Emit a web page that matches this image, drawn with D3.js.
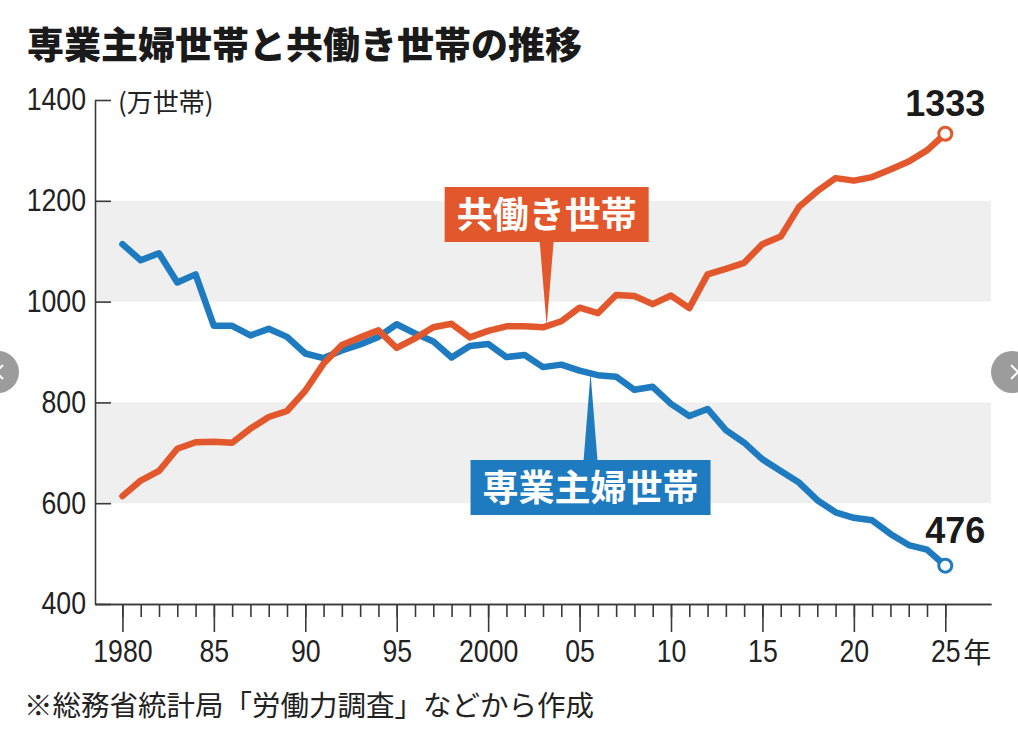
<!DOCTYPE html>
<html lang="ja">
<head>
<meta charset="utf-8">
<script src="https://cdn.jsdelivr.net/npm/d3@7"></script>
<style>
  body { margin: 0; background: #fff; }
  svg { display: block; }
</style>
</head>
<body>
<div id="chart"></div>
<script>
// data (万世帯)
const years = [1980, 1981, 1982, 1983, 1984, 1985, 1986, 1987, 1988, 1989,
  1990, 1991, 1992, 1993, 1994, 1995, 1996, 1997, 1998, 1999,
  2000, 2001, 2002, 2003, 2004, 2005, 2006, 2007, 2008, 2009,
  2010, 2011, 2012, 2013, 2014, 2015, 2016, 2017, 2018, 2019,
  2020, 2021, 2022, 2023, 2024, 2025];
const housewife = [1114, 1082, 1096, 1038, 1054, 952, 952, 933, 946, 930,
  897, 888, 903, 915, 930, 955, 937, 921, 889, 912,
  916, 890, 894, 870, 875, 863, 854, 851, 825, 831,
  797, 773, 787, 745, 720, 687, 664, 641, 606, 582,
  571, 566, 539, 517, 508, 476];
const dualIncome = [614, 645, 664, 708, 721, 722, 720, 748, 771, 783,
  823, 877, 914, 929, 943, 908, 927, 949, 956, 929,
  942, 951, 951, 949, 961, 988, 977, 1013, 1011, 995,
  1012, 987, 1054, 1065, 1077, 1114, 1129, 1188, 1219, 1245,
  1240, 1247, 1262, 1278, 1300, 1333];
const yTicks = [400, 600, 800, 1000, 1200, 1400];
const xMajor = [1980, 1985, 1990, 1995, 2000, 2005, 2010, 2015, 2020, 2025];
const xLabels = ["1980", "85", "90", "95", "2000", "05", "10", "15", "20", "25"];
const bands = [[600, 800], [1000, 1200]];

const width = 1018;
const height = 748;
const orange = "#e2582c";
const blue = "#1f7bc0";
const numFont = '"Liberation Sans Narrow", "Liberation Sans", Arial, sans-serif';
const jpFont = '"Noto Sans CJK JP", "Noto Sans", sans-serif';

const svg = d3.select("#chart")
  .append("svg")
  .attr("width", width)
  .attr("height", height)

// plot frame spans a year and a half past the data on each side
const x = d3.scaleLinear().domain([1978.5, 2027.5]).range([95, 991]);
const y = d3.scaleLinear().domain([400, 1400]).range([604, 100]);

// gray bands
svg.append("g")
  .selectAll("rect")
  .data(bands)
  .enter()
  .append("rect")
  .attr("x", x(1978.5))
  .attr("width", x(2027.5) - x(1978.5))
  .attr("y", function (d) { return y(d[1]); })
  .attr("height", function (d) { return y(d[0]) - y(d[1]); })
  .attr("fill", "#efefef");

// y axis (ticks point inward, labels outside)
svg.append("g")
  .attr("transform", "translate(" + x(1978.5) + ",0)")
  .call(d3.axisLeft(y).tickValues(yTicks).tickSize(-16).tickSizeOuter(0).tickPadding(9)
    .tickFormat(d3.format("d")));

// x axis: minor ticks every year, major every 5
svg.append("g")
  .attr("transform", "translate(0," + y(400) + ")")
  .call(d3.axisBottom(x).tickValues(years).tickSize(13).tickSizeOuter(0).tickFormat(""));

svg.append("g")
  .attr("transform", "translate(0," + y(400) + ")")
  .call(d3.axisBottom(x).tickValues(xMajor).tickSize(28).tickSizeOuter(0).tickPadding(8)
    .tickFormat(function (d, i) { return xLabels[i]; }));

svg.selectAll(".domain, .tick line")
  .attr("stroke", "#3a3a3a")
  .attr("stroke-width", 1.6);

// condensed-looking digits: squeeze the glyphs a little
svg.selectAll(".tick text")
  .attr("font-family", numFont)
  .attr("font-size", 31)
  .attr("fill", "#222")
  .each(function () {
    const len = this.getComputedTextLength();
    if (len > 0) {
      d3.select(this)
        .attr("textLength", len * 0.86)
        .attr("lengthAdjust", "spacingAndGlyphs");
    }
  });

// "年" after the last year label
svg.append("text")
  .attr("x", x(2025) + 18)
  .attr("y", 663)
  .attr("font-family", jpFont)
  .attr("font-size", 28)
  .attr("fill", "#222")
  .text("年");

// unit
svg.append("text")
  .attr("x", 118)
  .attr("y", 112)
  .attr("font-family", jpFont)
  .attr("font-size", 26)
  .attr("fill", "#222")
  .text("(万世帯)");

// lines
const line = d3.line()
  .x(function (d, i) { return x(years[i]); })
  .y(function (d) { return y(d); });

const series = [
  { key: "専業主婦世帯", values: housewife, color: blue },
  { key: "共働き世帯", values: dualIncome, color: orange }
];

svg.append("g")
  .selectAll("path")
  .data(series)
  .enter()
  .append("path")
  .attr("d", function (d) { return line(d.values); })
  .attr("fill", "none")
  .attr("stroke", function (d) { return d.color; })
  .attr("stroke-width", 6.5)
  .attr("stroke-linejoin", "round")
  .attr("stroke-linecap", "round");

// end markers + values
const last = years.length - 1;
svg.append("g")
  .selectAll("circle")
  .data(series)
  .enter()
  .append("circle")
  .attr("cx", x(years[last]))
  .attr("cy", function (d) { return y(d.values[last]); })
  .attr("r", 6.5)
  .attr("fill", "#fff")
  .attr("stroke", function (d) { return d.color; })
  .attr("stroke-width", 3);

svg.append("g")
  .selectAll("text")
  .data(series)
  .enter()
  .append("text")
  .attr("x", x(years[last]) + 40)
  .attr("y", function (d) {
    return d.values[last] > 1000 ? y(d.values[last]) - 18 : y(d.values[last]) - 23;
  })
  .attr("text-anchor", "end")
  .attr("font-family", '"Liberation Sans", Arial, sans-serif')
  .attr("font-weight", "bold")
  .attr("font-size", 36)
  .attr("fill", "#1a1a1a")
  .text(function (d) { return d.values[last]; });

// callout boxes with pointers
function valueAt(values, yr) {
  const i = Math.floor(yr) - years[0];
  const t = yr - Math.floor(yr);
  return values[i] * (1 - t) + values[i + 1] * t;
}

const callouts = [
  { text: "共働き世帯", values: dualIncome, color: orange, at: 2003.2, boxTop: 187, above: true },
  { text: "専業主婦世帯", values: housewife, color: blue, at: 2005.6, boxTop: 460, above: false }
];
const boxH = 55;

callouts.forEach(function (c) {
  const tx = x(c.at);
  const ty = y(valueAt(c.values, c.at));
  const g = svg.append("g");
  const edge = c.above ? c.boxTop + boxH - 1 : c.boxTop + 1;
  g.append("path")
    .attr("d", "M" + (tx - 7) + "," + edge + "L" + (tx + 7) + "," + edge + "L" + tx + "," + ty + "Z")
    .attr("fill", c.color);
  const rect = g.append("rect").attr("fill", c.color);
  const label = g.append("text")
    .attr("x", tx)
    .attr("y", c.boxTop + boxH / 2)
    .attr("dy", "0.38em")
    .attr("text-anchor", "middle")
    .attr("font-family", jpFont)
    .attr("font-weight", "bold")
    .attr("font-size", 36)
    .attr("fill", "#fff")
    .text(c.text);
  const w = label.node().getComputedTextLength() + 24;
  rect.attr("x", tx - w / 2)
    .attr("y", c.boxTop)
    .attr("width", w)
    .attr("height", boxH);
});

// title and source
svg.append("text")
  .attr("x", 27)
  .attr("y", 59)
  .attr("font-family", jpFont)
  .attr("font-weight", 900)
  .attr("font-size", 37)
  .attr("fill", "#1a1a1a")
  .text("専業主婦世帯と共働き世帯の推移");

svg.append("text")
  .attr("x", 24)
  .attr("y", 716)
  .attr("font-family", jpFont)
  .attr("font-size", 28.5)
  .attr("fill", "#222")
  .text("※総務省統計局「労働力調査」などから作成");

// carousel arrows at the page edges (screenshot chrome)
const arrows = [{ cx: -2, dir: -1 }, { cx: 1012, dir: 1 }];
const arrow = svg.append("g")
  .selectAll("g")
  .data(arrows)
  .enter()
  .append("g")
  .attr("transform", function (d) { return "translate(" + d.cx + ",372)"; });
arrow.append("circle")
  .attr("r", 21)
  .attr("fill", "#9c9c9c");
arrow.append("path")
  .attr("d", function (d) { return "M" + (-3 * d.dir + 2) + ",-7L" + (4 * d.dir + 2) + ",0L" + (-3 * d.dir + 2) + ",7"; })
  .attr("fill", "none")
  .attr("stroke", "#fff")
  .attr("stroke-width", 2);
</script>
</body>
</html>
